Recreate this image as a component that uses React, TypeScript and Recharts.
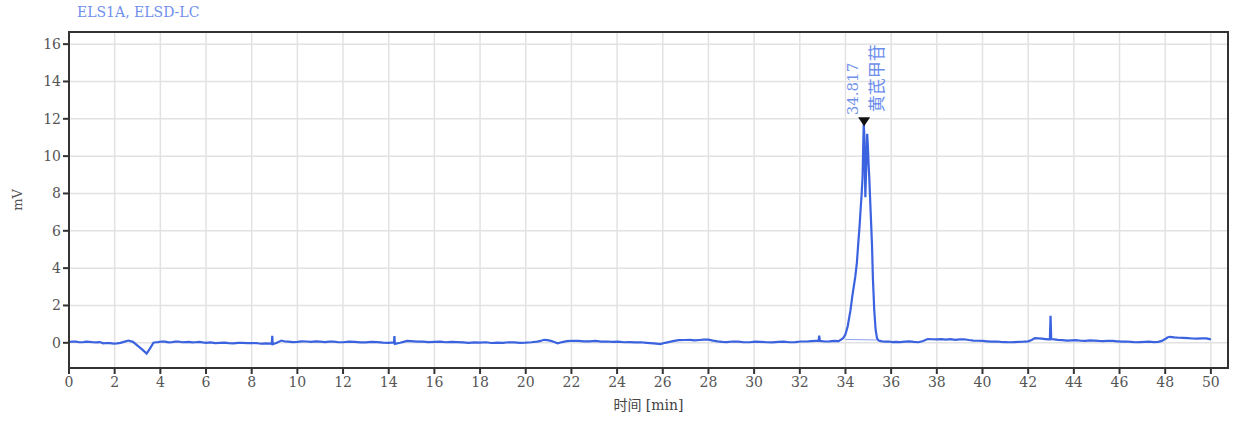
import React from "react";
import {
  LineChart,
  Line,
  XAxis,
  YAxis,
  CartesianGrid,
  ReferenceArea,
  ReferenceDot,
  Label,
} from "recharts";

// Retention time (min) — 10 values per row, aligned with `signal` rows
const times: number[] = [
  0, 0.15, 0.3, 0.45, 0.6, 0.75, 0.9, 1.05, 1.2, 1.35,
  1.5, 1.65, 1.8, 1.95, 2.1, 2.25, 2.4, 2.6, 2.8, 3.0,
  3.2, 3.4, 3.55, 3.7, 3.8, 3.9, 4.05, 4.2, 4.35, 4.5,
  4.65, 4.8, 4.95, 5.1, 5.25, 5.4, 5.55, 5.7, 5.85, 6.0,
  6.2, 6.4, 6.6, 6.8, 7.0, 7.2, 7.4, 7.6, 7.8, 8.0,
  8.2, 8.4, 8.6, 8.8, 8.88, 8.9, 8.92, 9.1, 9.3, 9.45,
  9.6, 9.8, 10.0, 10.2, 10.4, 10.6, 10.8, 11.0, 11.2, 11.4,
  11.6, 11.8, 12.0, 12.25, 12.5, 12.75, 13.0, 13.25, 13.5, 13.75,
  14.0, 14.2, 14.23, 14.25, 14.27, 14.5, 14.65, 14.8, 14.95, 15.1,
  15.3, 15.5, 15.75, 16.0, 16.25, 16.5, 16.75, 17.0, 17.25, 17.5,
  17.75, 18.0, 18.25, 18.5, 18.75, 19.0, 19.25, 19.5, 19.75, 20.0,
  20.25, 20.5, 20.65, 20.8, 20.95, 21.1, 21.25, 21.4, 21.6, 21.8,
  22.05, 22.3, 22.55, 22.8, 23.05, 23.3, 23.55, 23.8, 24.05, 24.3,
  24.55, 24.8, 25.05, 25.3, 25.6, 25.9, 26.1, 26.3, 26.5, 26.7,
  26.95, 27.2, 27.4, 27.6, 27.8, 28.0, 28.2, 28.4, 28.6, 28.8,
  29.05, 29.3, 29.55, 29.8, 30.05, 30.3, 30.55, 30.8, 31.05, 31.3,
  31.55, 31.8, 32.05, 32.3, 32.5, 32.7, 32.82, 32.85, 32.88, 33.1,
  33.3, 33.5, 33.7, 33.9, 34.0, 34.1, 34.22, 34.3, 34.43, 34.5,
  34.56, 34.62, 34.66, 34.71, 34.75, 34.78, 34.8, 34.83, 34.87, 34.91,
  34.95, 34.98, 35.01, 35.04, 35.1, 35.16, 35.2, 35.26, 35.32, 35.38,
  35.45, 35.6, 35.75, 35.9, 36.05, 36.2, 36.4, 36.6, 36.8, 37.0,
  37.2, 37.4, 37.6, 37.8, 38.0, 38.2, 38.4, 38.6, 38.8, 39.0,
  39.2, 39.4, 39.6, 39.8, 40.0, 40.2, 40.4, 40.6, 40.8, 41.0,
  41.2, 41.4, 41.6, 41.8, 42.0, 42.15, 42.3, 42.45, 42.6, 42.75,
  42.9, 42.95, 42.98, 43.01, 43.15, 43.3, 43.5, 43.7, 43.9, 44.1,
  44.3, 44.5, 44.7, 44.9, 45.1, 45.3, 45.5, 45.7, 45.9, 46.1,
  46.3, 46.5, 46.7, 46.9, 47.1, 47.3, 47.5, 47.7, 47.85, 48.0,
  48.1, 48.2, 48.4, 48.6, 48.8, 49.0, 49.2, 49.4, 49.6, 49.8,
  50.0,
];

// Detector signal (mV)
const signal: number[] = [
  0.04, 0.07, 0.06, 0.03, 0.03, 0.06, 0.05, 0.03, 0.02, 0.04,
  -0.03, -0.01, -0.02, -0.04, -0.03, 0.0, 0.05, 0.12, 0.05, -0.15,
  -0.35, -0.58, -0.3, 0.0, 0.03, 0.04, 0.07, 0.06, 0.02, 0.03,
  0.06, 0.07, 0.03, 0.04, 0.05, 0.02, 0.03, 0.05, 0.02, 0.0,
  0.02, -0.02, 0.0, 0.01, -0.02, -0.03, 0.0, 0.0, -0.02, -0.02,
  -0.01, -0.05, -0.03, -0.04, -0.05, 0.38, -0.08, 0.0, 0.12, 0.07,
  0.06, 0.04, 0.05, 0.08, 0.07, 0.05, 0.08, 0.06, 0.04, 0.06,
  0.06, 0.03, 0.03, 0.06, 0.05, 0.02, 0.02, 0.05, 0.04, 0.01,
  0.0, 0.02, 0.0, 0.36, -0.06, 0.0, 0.05, 0.1, 0.09, 0.08,
  0.06, 0.06, 0.04, 0.05, 0.06, 0.03, 0.05, 0.04, 0.02, 0.0,
  0.02, 0.01, 0.03, -0.01, 0.01, 0.0, 0.03, 0.02, 0.0, 0.01,
  0.03, 0.06, 0.1, 0.16, 0.14, 0.1, 0.04, -0.03, 0.04, 0.09,
  0.11, 0.1, 0.08, 0.08, 0.1, 0.06, 0.07, 0.05, 0.06, 0.03,
  0.04, 0.02, 0.03, 0.0, -0.03, -0.07, 0.0, 0.05, 0.1, 0.14,
  0.15, 0.16, 0.13, 0.15, 0.17, 0.17, 0.12, 0.08, 0.05, 0.04,
  0.07, 0.06, 0.03, 0.03, 0.06, 0.05, 0.03, 0.02, 0.05, 0.06,
  0.03, 0.04, 0.07, 0.07, 0.09, 0.1, 0.1, 0.38, 0.1, 0.07,
  0.08, 0.1, 0.09, 0.25, 0.45, 0.9, 1.75, 2.5, 3.54, 4.3,
  5.33, 6.3, 7.1, 8.0, 8.9, 10.7, 11.76, 11.0, 7.8, 9.5,
  11.2, 10.6, 9.6, 8.9, 7.1, 5.3, 3.5, 1.75, 0.7, 0.25,
  0.12, 0.08, 0.06, 0.07, 0.04, 0.05, 0.04, 0.06, 0.08, 0.05,
  0.03, 0.1, 0.2, 0.19, 0.18, 0.2, 0.17, 0.2, 0.16, 0.18,
  0.19, 0.15, 0.12, 0.11, 0.1, 0.08, 0.06, 0.07, 0.05, 0.04,
  0.03, 0.04, 0.05, 0.06, 0.08, 0.15, 0.25, 0.24, 0.22, 0.2,
  0.18, 0.18, 1.45, 0.2, 0.18, 0.16, 0.14, 0.12, 0.13, 0.14,
  0.11, 0.1, 0.13, 0.12, 0.1, 0.09, 0.11, 0.1, 0.08, 0.06,
  0.07, 0.05, 0.03, 0.04, 0.05, 0.06, 0.04, 0.05, 0.1, 0.2,
  0.28, 0.32, 0.29, 0.27, 0.26, 0.25, 0.23, 0.22, 0.24, 0.24,
  0.18,
];

// Integration baseline under the main peak
const baseTimes: number[] = [34.0, 35.45];
const baseValues: number[] = [0.18, 0.15];

const xTicks: number[] = [
  0, 2, 4, 6, 8, 10, 12, 14, 16, 18, 20, 22, 24, 26, 28, 30, 32, 34, 36, 38, 40, 42,
  44, 46, 48, 50,
];
const yTicks: number[] = [0, 2, 4, 6, 8, 10, 12, 14, 16];

const peakTime = 34.817;
const peakHeight = 11.76;
const peakRtLabel = "34.817";
const peakName = "黄芪甲苷";
const title = "ELS1A, ELSD-LC";
const xLabel = "时间 [min]";
const yLabel = "mV";

const xDomain: [number, number] = [0, 50.75];
const yDomain: [number, number] = [-1.35, 16.65];

const traceData = times.map((t, i) => ({ t, v: signal[i] }));
const baseData = baseTimes.map((t, i) => ({ t, v: baseValues[i] }));

const SERIF = "'DejaVu Serif', 'Liberation Serif', 'Noto Sans CJK SC', serif";
const LABEL_BLUE = "#6f8fec";

const PeakMarker = (props: any) => {
  const { cx, cy } = props;
  if (cx == null || cy == null) return null;
  return (
    <g>
      <polygon
        points={`${cx - 6},${cy - 6} ${cx + 6},${cy - 6} ${cx},${cy + 3}`}
        fill="#111"
      />
      <text
        x={cx - 6}
        y={cy - 8}
        transform={`rotate(-90, ${cx - 6}, ${cy - 8})`}
        fontFamily={SERIF}
        fontSize={15}
        fill={LABEL_BLUE}
        textAnchor="start"
      >
        {peakRtLabel}
      </text>
      <text
        x={cx + 19}
        y={cy - 11}
        transform={`rotate(-90, ${cx + 19}, ${cy - 11})`}
        fontFamily="'Noto Sans CJK SC', sans-serif"
        fontSize={17}
        fill={LABEL_BLUE}
        textAnchor="start"
      >
        {peakName}
      </text>
    </g>
  );
};

export default function App() {
  return (
    <div
      style={{
        position: "absolute",
        left: 0,
        top: 0,
        width: 1240,
        height: 421,
        background: "#fff",
      }}
    >
      <div
        style={{
          position: "absolute",
          left: 77,
          top: 4,
          fontFamily: SERIF,
          fontSize: 14,
          color: LABEL_BLUE,
          whiteSpace: "nowrap",
        }}
      >
        {title}
      </div>
      <LineChart
        width={1240}
        height={421}
        margin={{ top: 32, right: 12, bottom: 8, left: 19 }}
      >
        <CartesianGrid
          stroke="#e2e2e2"
          strokeWidth={1.5}
          horizontalValues={yTicks}
          verticalValues={xTicks}
        />
        <XAxis
          dataKey="t"
          type="number"
          domain={xDomain}
          ticks={xTicks}
          allowDataOverflow
          height={45}
          tickSize={6}
          tickMargin={3}
          axisLine={{ stroke: "#333", strokeWidth: 2 }}
          tickLine={{ stroke: "#333", strokeWidth: 2 }}
          tick={{ fontFamily: SERIF, fontSize: 14, fill: "#555" }}
        >
          <Label
            value={xLabel}
            position="insideBottom"
            offset={3}
            style={{ fontFamily: SERIF, fontSize: 14, fill: "#444" }}
          />
        </XAxis>
        <YAxis
          type="number"
          domain={yDomain}
          ticks={yTicks}
          allowDataOverflow
          width={50}
          tickSize={6}
          tickMargin={2}
          axisLine={{ stroke: "#333", strokeWidth: 2 }}
          tickLine={{ stroke: "#333", strokeWidth: 2 }}
          tick={{ fontFamily: SERIF, fontSize: 14, fill: "#555" }}
        >
          <Label
            value={yLabel}
            angle={-90}
            position="insideLeft"
            offset={-2}
            style={{ fontFamily: SERIF, fontSize: 13, fill: "#555", textAnchor: "middle" }}
          />
        </YAxis>
        <ReferenceArea
          x1={xDomain[0]}
          x2={xDomain[1]}
          y1={yDomain[0]}
          y2={yDomain[1]}
          fill="none"
          stroke="#333"
          strokeWidth={2}
          ifOverflow="visible"
        />
        <Line
          data={baseData}
          dataKey="v"
          type="linear"
          stroke="#8aa4f0"
          strokeWidth={1}
          dot={false}
          isAnimationActive={false}
        />
        <Line
          data={traceData}
          dataKey="v"
          type="linear"
          stroke="#3b63e0"
          strokeWidth={2.2}
          dot={false}
          isAnimationActive={false}
        />
        <ReferenceDot
          x={peakTime}
          y={peakHeight}
          r={0}
          ifOverflow="visible"
          shape={PeakMarker}
        />
      </LineChart>
    </div>
  );
}
